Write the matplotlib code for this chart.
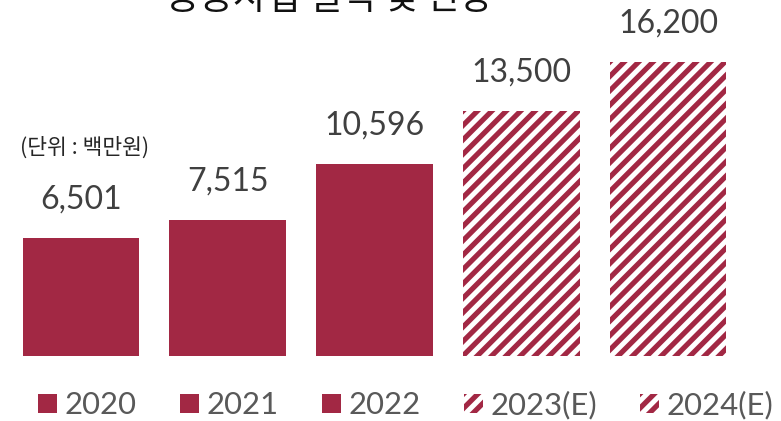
import matplotlib
matplotlib.use('Agg')
import matplotlib.pyplot as plt
import numpy as np
from matplotlib.patches import Patch, Rectangle
from matplotlib.lines import Line2D

# data
years = ['2020', '2021', '2022', '2023(E)', '2024(E)']
values = [6501, 7515, 10596, 13500, 16200]
estimated = [False, False, False, True, True]

title = '공공사업 실적 및 전망'
unit_label = '(단위 : 백만원)'

bar_color = '#A22844'
label_color = '#404040'
legend_color = '#595959'

DPI = 100
STRIPE_PERIOD = 14.4   # px, horizontal distance between stripes
STRIPE_WIDTH = 5.2     # px, measured across the stripe


def pt(px):
    # pixels -> points
    return px * 72.0 / DPI


plt.rcParams['font.family'] = ['Lato', 'Noto Sans CJK KR', 'DejaVu Sans']

fig = plt.figure(figsize=(781 / DPI, 421 / DPI), dpi=DPI)
ax = fig.add_axes([0, (421 - 356) / 421, 1, 356 / 421])
ax.set_xlim(-0.552, 4.770)
ax.set_ylim(0, 356 / 0.01815)
ax.axis('off')


def add_stripes(patch):
    # diagonal stripes drawn in pixel space, clipped to the bar
    bb = patch.get_window_extent()
    inv = ax.transData.inverted()
    cs = np.arange(bb.x0 - bb.y1 - STRIPE_PERIOD, bb.x1 - bb.y0 + STRIPE_PERIOD, STRIPE_PERIOD)
    for c in cs:
        p = inv.transform([[bb.y0 - 10 + c, bb.y0 - 10], [bb.y1 + 10 + c, bb.y1 + 10]])
        ln = Line2D(p[:, 0], p[:, 1], color=bar_color, linewidth=pt(STRIPE_WIDTH),
                    solid_capstyle='butt')
        ax.add_line(ln)
        ln.set_clip_path(patch)


for i, (v, est) in enumerate(zip(values, estimated)):
    if est:
        bars = ax.bar(i, v, width=0.794, facecolor='none', linewidth=0)
        add_stripes(bars[0])
    else:
        ax.bar(i, v, width=0.794, color=bar_color, linewidth=0)
    ax.annotate(f'{v:,}', (i, v), xytext=(0, pt(29)), textcoords='offset points',
                ha='center', va='baseline', fontsize=pt(32), color=label_color)


class StripeHandler:
    def legend_artist(self, legend, orig_handle, fontsize, handlebox):
        x0, y0 = -handlebox.xdescent, -handlebox.ydescent
        w, h = handlebox.width, handlebox.height
        rect = Rectangle((x0, y0), w, h, facecolor='none', edgecolor='none')
        handlebox.add_artist(rect)
        per = pt(STRIPE_PERIOD)
        for c in np.arange(-h - per, w + per, per):
            ln = Line2D([x0 + c - 2, x0 + c + h + 2], [y0 - 2, y0 + h + 2], color=bar_color,
                        linewidth=pt(STRIPE_WIDTH), solid_capstyle='butt')
            handlebox.add_artist(ln)
            ln.set_clip_path(rect)
        return rect


# legend
handles = []
handler_map = {}
for y, est in zip(years, estimated):
    h = Patch(facecolor=bar_color, linewidth=0, label=y)
    if est:
        handler_map[h] = StripeHandler()
    handles.append(h)
leg = fig.legend(handles=handles, loc='center left', ncol=5, handler_map=handler_map,
                 bbox_to_anchor=(38 / 781, (421 - 405) / 421), frameon=False,
                 prop={'family': 'Lato', 'size': pt(31)},
                 handlelength=0.62, handleheight=0.58, handletextpad=0.24,
                 columnspacing=1.39, borderpad=0, borderaxespad=0)
for t in leg.get_texts():
    t.set_color(legend_color)

fig.text(20 / 781, (421 - 148) / 421, unit_label, ha='left', va='center',
         fontsize=pt(21.5), color='#262626', family='Noto Sans CJK KR')

# title is mostly cut off at the top edge
fig.text(329 / 781, (421 - 9) / 421, title, ha='center', va='baseline',
         fontsize=pt(36.5), color='#111111', family='Noto Sans CJK KR',
         fontweight='medium')

fig.savefig('out.png', dpi=DPI)
